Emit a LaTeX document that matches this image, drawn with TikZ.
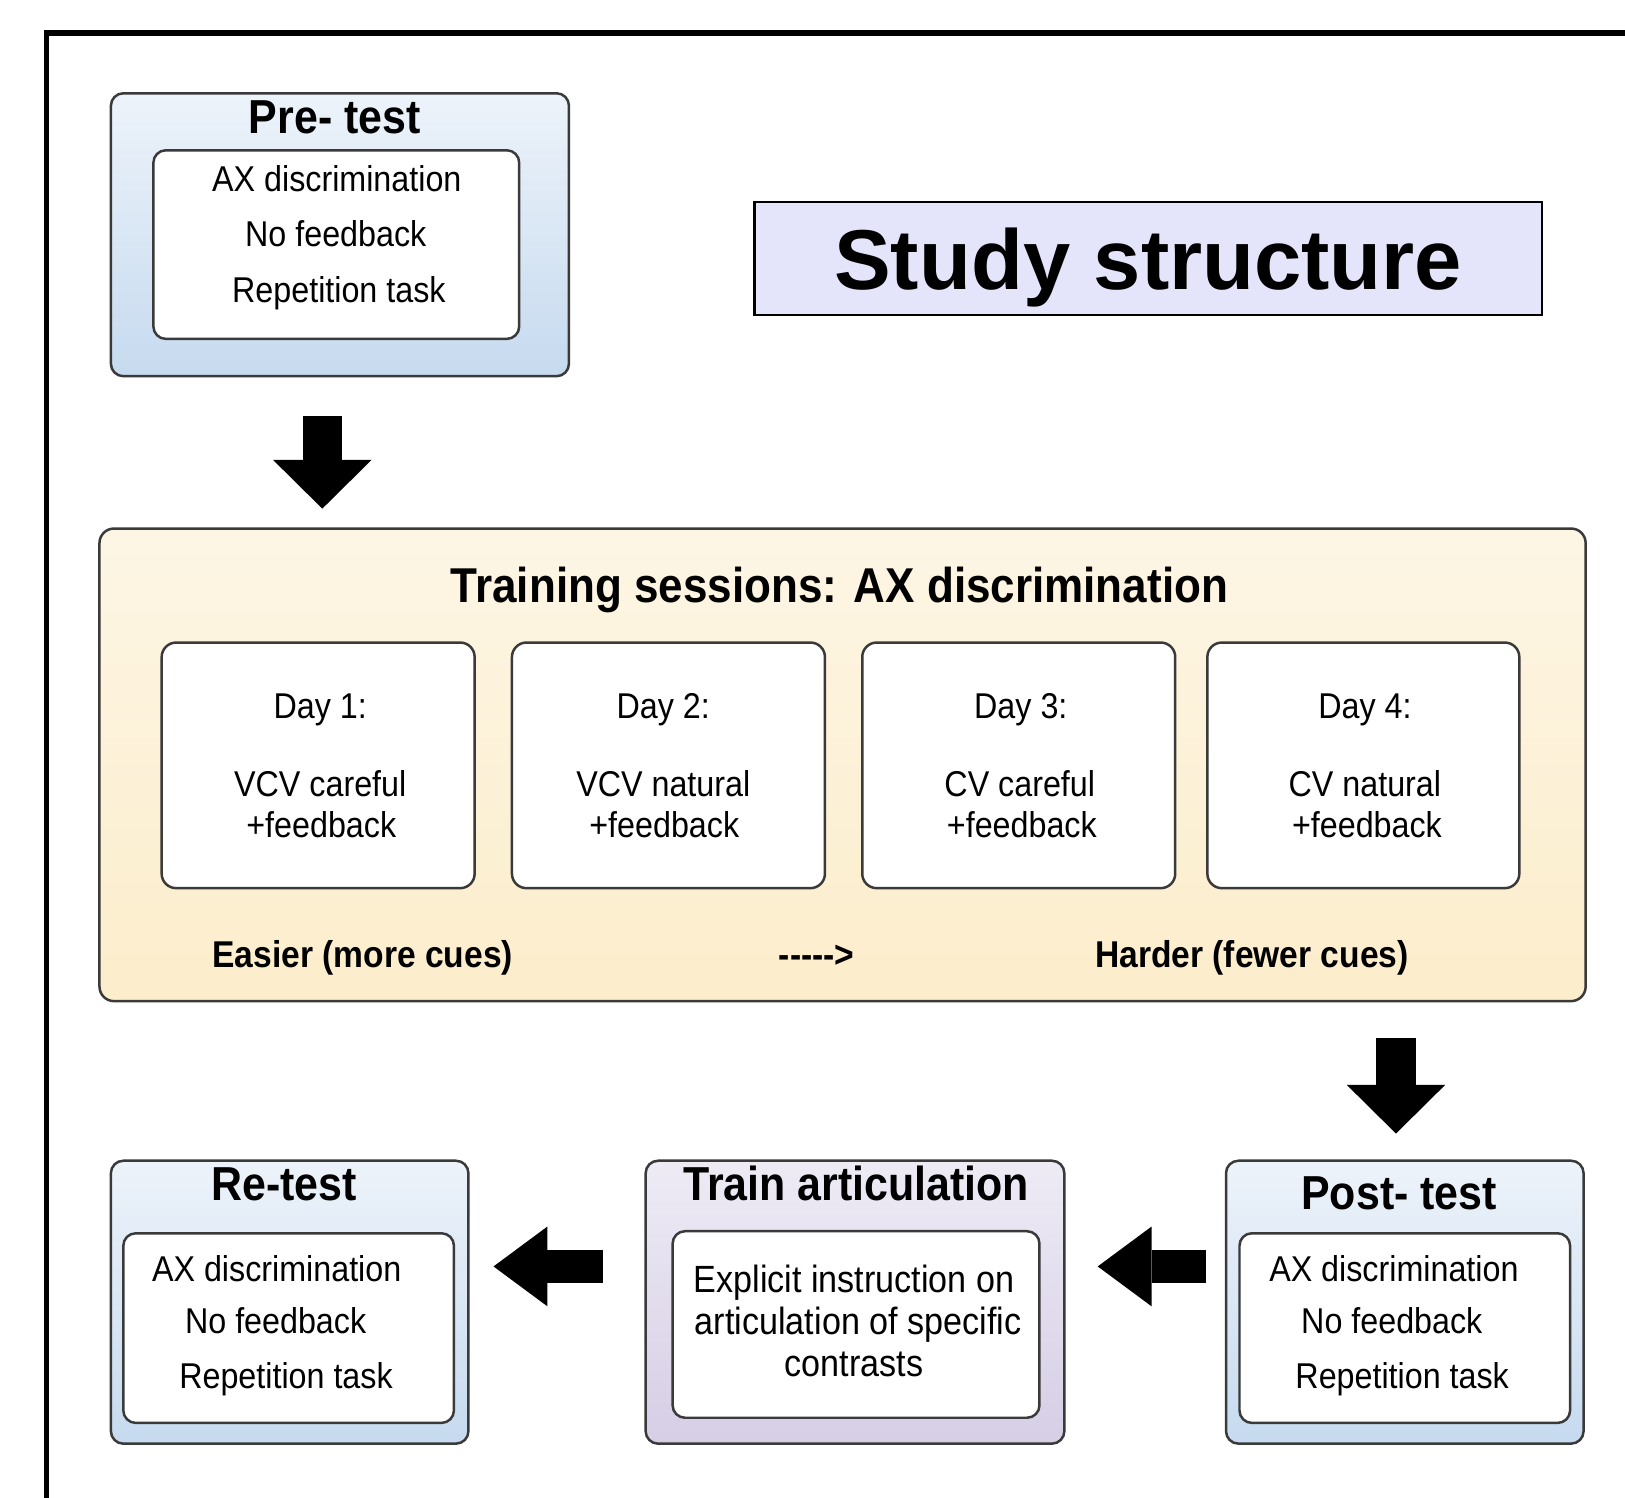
\documentclass[tikz,border=0pt]{standalone}
\usepackage{fontspec}
\setmainfont{Liberation Sans}
\newfontfamily\narrowsf{Liberation Sans}[FakeStretch=0.9]
\usetikzlibrary{fit,calc,arrows.meta}

\definecolor{blueTop}{HTML}{EDF3FA}
\definecolor{blueBot}{HTML}{C6DAEF}
\definecolor{lavTop}{HTML}{EEEBF5}
\definecolor{lavBot}{HTML}{D6CEE5}
\definecolor{yelTop}{HTML}{FDF6E5}
\definecolor{yelBot}{HTML}{FCEDCB}
\definecolor{titleFill}{HTML}{E4E4FB}
\definecolor{edge}{HTML}{3A3A3A}

\tikzset{
  outerblue/.style={draw=edge, line width=1.2pt, rounded corners=6pt, top color=blueTop, bottom color=blueBot, inner sep=0pt},
  outerlav/.style={draw=edge, line width=1.2pt, rounded corners=6pt, top color=lavTop, bottom color=lavBot, inner sep=0pt},
  outeryel/.style={draw=edge, line width=1.2pt, rounded corners=7pt, top color=yelTop, bottom color=yelBot, inner sep=0pt},
  innerbox/.style={draw=edge, line width=1.2pt, rounded corners=6pt, fill=white, inner sep=0pt},
  daybox/.style={draw=edge, line width=1.2pt, rounded corners=7pt, fill=white, inner sep=0pt},
  titlebox/.style={draw=black, line width=1pt, fill=titleFill, inner sep=0pt},
  titletxt/.style={font=\bfseries\fontsize{41}{48}\selectfont, inner sep=0pt, anchor=base},
  headtxt/.style={font=\narrowsf\bfseries\fontsize{23}{27}\selectfont, inner sep=0pt, anchor=base},
  bodytxt/.style={font=\narrowsf\fontsize{17.3}{21}\selectfont, inner sep=0pt, anchor=base},
  arttxt/.style={font=\narrowsf\fontsize{18.3}{22}\selectfont, inner sep=0pt, anchor=base},
  cuetxt/.style={font=\narrowsf\bfseries\fontsize{18}{22}\selectfont, inner sep=0pt, anchor=base},
  bigarrow/.style={line width=19pt, -{Triangle[width=47.5pt,length=23.5pt,line width=0pt]}},
  sidearrow/.style={line width=15.5pt, -{Triangle[width=38.5pt,length=26pt,line width=0pt]}},
}

\begin{document}
\begin{tikzpicture}[x=0.5pt,y=-0.5pt]
\useasboundingbox (0,0) rectangle (1568,1445);
\fill[white] (0,0) rectangle (1568,1445);

% outer frame (only left and top edges visible)
\draw[line width=2.7pt] (45,1445) -- (45,32) -- (1568,32);

% Pre-test
\node[outerblue, fit={(107,90) (549,363)}] (pre) {};
\node[innerbox, fit={(148,145) (501,327)}] (prein) {};
\node[headtxt] (pretitle) at (323,129) {Pre- test};
\node[bodytxt] (pre1) at (325,185) {AX discrimination};
\node[bodytxt] (pre2) at (324,238) {No feedback};
\node[bodytxt] (pre3) at (327,292) {Repetition task};

% Title
\node[titlebox, fit={(728,195) (1488,304)}] (titlebox) {};
\node[titletxt] (title) at (1108,279) {Study structure};

% Training sessions
\node[outeryel, fit={(96,510) (1530,966)}] (train) {};
\node[headtxt, font=\narrowsf\bfseries\fontsize{23.6}{27}\selectfont] (traintitle) at (810,581) {Training sessions: AX discrimination};

\node[daybox, fit={(156,620) (458,857)}] (day1) {};
\node[daybox, fit={(494,620) (796,857)}] (day2) {};
\node[daybox, fit={(832,620) (1134,857)}] (day3) {};
\node[daybox, fit={(1165,620) (1466,857)}] (day4) {};

\node[bodytxt] (d1a) at (309,693) {Day 1:};
\node[bodytxt] (d1b) at (309,769) {VCV careful};
\node[bodytxt] (d1c) at (310,808) {+feedback};
\node[bodytxt] (d2a) at (640,693) {Day 2:};
\node[bodytxt] (d2b) at (640,769) {VCV natural};
\node[bodytxt] (d2c) at (641,808) {+feedback};
\node[bodytxt] (d3a) at (985,693) {Day 3:};
\node[bodytxt] (d3b) at (984,769) {CV careful};
\node[bodytxt] (d3c) at (986,808) {+feedback};
\node[bodytxt] (d4a) at (1317,693) {Day 4:};
\node[bodytxt] (d4b) at (1317,769) {CV natural};
\node[bodytxt] (d4c) at (1319,808) {+feedback};

\node[cuetxt] (easy) at (350,934) {Easier (more cues)};
\node[cuetxt] (dash) at (788,934) {{-}{-}{-}{-}{-}>};
\node[cuetxt] (hard) at (1208,934) {Harder (fewer cues)};

% Bottom row
\node[outerblue, fit={(107,1120) (452,1393)}] (re) {};
\node[innerbox, fit={(119,1190) (438,1373)}] (rein) {};
\node[headtxt] (retitle) at (274,1158) {Re-test};
\node[bodytxt] (re1) at (267,1237) {AX discrimination};
\node[bodytxt] (re2) at (266,1287) {No feedback};
\node[bodytxt] (re3) at (276,1340) {Repetition task};

\node[outerlav, fit={(623,1120) (1027,1393)}] (art) {};
\node[innerbox, fit={(649,1188) (1003,1368)}] (artin) {};
\node[headtxt] (arttitle) at (826,1158) {Train articulation};
\node[arttxt] (art1) at (824,1247) {Explicit instruction on};
\node[arttxt] (art2) at (828,1288) {articulation of specific};
\node[arttxt] (art3) at (824,1328) {contrasts};

\node[outerblue, fit={(1183,1120) (1528,1393)}] (post) {};
\node[innerbox, fit={(1196,1190) (1515,1373)}] (postin) {};
\node[headtxt] (posttitle) at (1350,1167) {Post- test};
\node[bodytxt] (post1) at (1345,1237) {AX discrimination};
\node[bodytxt] (post2) at (1343,1287) {No feedback};
\node[bodytxt] (post3) at (1353,1340) {Repetition task};

% Block arrows
\draw[bigarrow] ($(pre.south)+(-17,37)$) -- ($(pre.south |- train.north)+(-17,-18)$);
\draw[bigarrow] ($(post.north |- train.south)+(-8.5,34)$) -- ($(post.north)+(-8.5,-25)$);
\draw[sidearrow] ($(post.west)+(-18,-34.5)$) -- ($(art.east |- post.west)+(31,-34.5)$);
\draw[sidearrow] ($(art.west)+(-40,-34.5)$) -- ($(re.east |- art.west)+(23,-34.5)$);
\end{tikzpicture}
\end{document}
